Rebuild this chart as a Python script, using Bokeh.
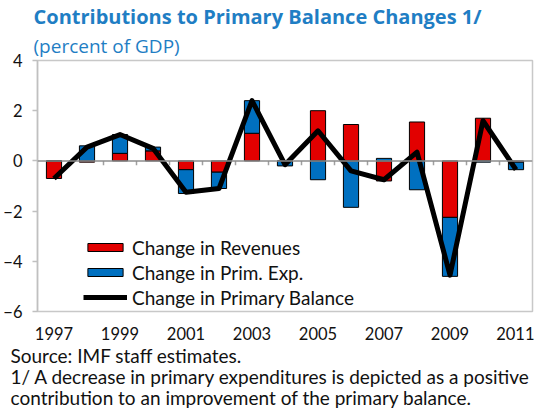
from bokeh.plotting import figure
from bokeh.models import ColumnDataSource, Title, Span, Legend, LegendItem, FixedTicker, Range1d
from bokeh.embed import file_html
from bokeh.resources import INLINE

years = list(range(1997, 2012))
revenues = [-0.70, -0.05, 0.30, 0.40, -0.35, -0.45, 1.10, 0.00, 2.00, 1.45, -0.80, 1.55, -2.25, 1.70, -0.05]
prim_exp = [0.00, 0.60, 0.75, 0.15, -0.95, -0.65, 1.30, -0.20, -0.75, -1.85, 0.10, -1.15, -2.35, -0.05, -0.30]
balance = [-0.70, 0.55, 1.05, 0.50, -1.25, -1.10, 2.40, -0.15, 1.20, -0.40, -0.75, 0.35, -4.55, 1.60, -0.35]
x_tick_years = [1997, 1999, 2001, 2003, 2005, 2007, 2009, 2011]
y_ticks = [-6, -4, -2, 0, 2, 4]

title_text = "Contributions to Primary Balance Changes 1/"
subtitle_text = "(percent of GDP)"
notes = ["Source: IMF staff estimates.",
         "1/ A decrease in primary expenditures is depicted as a positive",
         "contribution to an improvement  of the primary balance."]

FONT = "Lato"
TFONT = "Open Sans"
BLUE_T = "#1F7EC4"
RED = "#E20000"
BLUE = "#0070C0"
TXT = "#111111"

# stacked bars (positives and negatives stacked separately)
rev_bottom = [min(0, r) for r in revenues]
rev_top = [max(0, r) for r in revenues]
exp_bottom, exp_top = [], []
for r, e in zip(revenues, prim_exp):
    if e >= 0:
        base = max(0, r)
        exp_bottom.append(base)
        exp_top.append(base + e)
    else:
        base = min(0, r)
        exp_top.append(base)
        exp_bottom.append(base + e)

src = ColumnDataSource(dict(x=years, rb=rev_bottom, rt=rev_top, eb=exp_bottom, et=exp_top, bal=balance))

p = figure(frame_width=495, frame_height=251, x_range=Range1d(1996.5, 2011.5), y_range=Range1d(-6, 4),
           output_backend="svg", toolbar_location=None,
           min_border_left=29, min_border_right=2, min_border_top=0, min_border_bottom=0)
p.title.visible = False
p.grid.visible = False
p.outline_line_color = "#C8C8C8"
p.outline_line_width = 1.5

p.xaxis.ticker = FixedTicker(ticks=x_tick_years)
p.xaxis.axis_line_color = None
p.xaxis.major_tick_line_color = None
p.xaxis.minor_tick_line_color = None
p.xaxis.major_tick_out = 0
p.xaxis.major_label_standoff = 15
p.xaxis.major_label_text_font = FONT
p.xaxis.major_label_text_font_size = "16.5px"
p.xaxis.major_label_text_color = TXT

p.yaxis.ticker = FixedTicker(ticks=y_ticks)
p.yaxis.axis_line_color = "#C0C0C0"
p.yaxis.axis_line_width = 1.5
p.yaxis.major_tick_line_color = "#C0C0C0"
p.yaxis.major_tick_line_width = 1.5
p.yaxis.major_tick_out = 5
p.yaxis.major_tick_in = 0
p.yaxis.minor_tick_line_color = None
p.yaxis.major_label_standoff = 10
p.yaxis.major_label_text_font = FONT
p.yaxis.major_label_text_font_size = "16.5px"
p.yaxis.major_label_text_color = TXT

p.add_layout(Span(location=0, dimension="width", line_color="#8C8C8C", line_width=1.5))
bounds = [y + 0.5 for y in years[:-1]]
p.segment(x0=bounds, x1=bounds, y0=[0] * len(bounds), y1=[-0.17] * len(bounds),
          line_color="#A0A0A0", line_width=1.5)

r_rev = p.vbar(x="x", bottom="rb", top="rt", width=0.46, source=src,
               fill_color=RED, line_color="black", line_width=1)
r_exp = p.vbar(x="x", bottom="eb", top="et", width=0.46, source=src,
               fill_color=BLUE, line_color="black", line_width=1)
r_bal = p.line(x="x", y="bal", source=src, line_color="black", line_width=5, line_join="round")

legend = Legend(items=[LegendItem(label="Change in Revenues", renderers=[r_rev]),
                       LegendItem(label="Change in Prim. Exp.", renderers=[r_exp]),
                       LegendItem(label="Change in Primary Balance", renderers=[r_bal])],
                location=(46, 2), glyph_width=44, glyph_height=10, label_height=24,
                spacing=1, padding=0, margin=0, border_line_color=None,
                background_fill_alpha=0, label_standoff=5,
                label_text_font=FONT, label_text_font_size="19px", label_text_color=TXT)
p.add_layout(legend, "center")

# titles above (first added sits closest to the plot)
p.add_layout(Title(text=subtitle_text, align="left", offset=-4, standoff=3,
                   text_font=TFONT, text_font_size="19px", text_font_style="normal",
                   text_color=BLUE_T), "above")
p.add_layout(Title(text=title_text, align="left", offset=-4, standoff=0,
                   text_font=TFONT, text_font_size="20px", text_font_style="bold",
                   text_color=BLUE_T), "above")

# footnotes below the x axis, as one multi-line title
note_kw = dict(text="\n".join(notes), align="left", offset=-27, standoff=0,
               text_font=FONT, text_font_size="19px", text_font_style="normal",
               text_color=TXT)
if "text_line_height" in Title.properties():
    note_kw["text_line_height"] = 0.92
p.add_layout(Title(**note_kw), "below")

open("out.html", "w").write(file_html(p, INLINE))
